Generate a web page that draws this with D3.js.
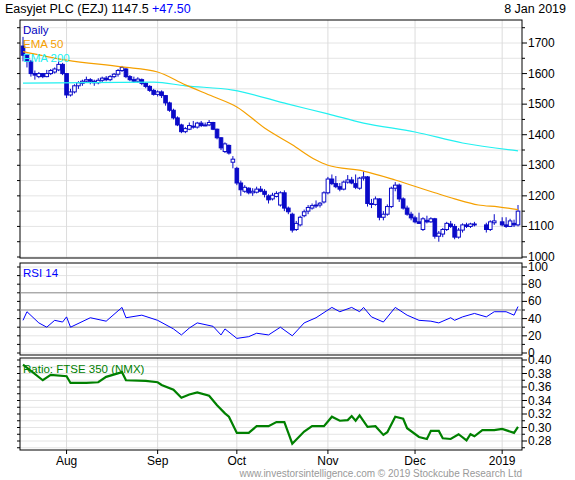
<!DOCTYPE html>
<html><head><meta charset="utf-8">
<script src="https://cdn.jsdelivr.net/npm/d3@7"></script>
<style>body{margin:0;background:#fff}svg{font-family:"Liberation Sans",Arial,sans-serif}</style>
</head><body><svg width="575" height="480"></svg>
<script>
// one row per weekday from 17 Jul 2018: [open, high, low, close], null = market closed
const candles = [
  [1690,1720,1640,1660],[1660,1665,1620,1640],[1640,1645,1590,1600],[1600,1610,1580,1595],[1590,1605,1585,1600],
  [1600,1602,1585,1590],[1590,1612,1588,1600],[1600,1615,1595,1610],[1605,1620,1600,1615],[1612,1640,1608,1630],
  [1630,1635,1595,1600],
  [1600,1600,1520,1530],[1530,1550,1525,1540],[1540,1565,1535,1560],[1560,1575,1550,1570],[1568,1580,1560,1575],
  [1575,1590,1570,1580],[1580,1585,1565,1575],[1575,1580,1560,1570],[1570,1585,1565,1578],[1578,1590,1570,1585],
  [1585,1592,1575,1580],[1580,1595,1575,1590],[1590,1602,1585,1598],[1598,1615,1590,1610],[1610,1625,1605,1620],
  [1615,1618,1585,1590],[1590,1595,1575,1580],[1580,1590,1570,1575],[1575,1588,1570,1582],[1580,1584,1562,1568],
  [1568,1572,1552,1558],[1558,1562,1540,1545],[1545,1550,1528,1532],
  [1532,1545,1525,1540],[1540,1545,1520,1528],[1528,1530,1495,1504],[1504,1508,1475,1480],[1480,1485,1450,1455],
  [1455,1460,1428,1432],[1432,1436,1405,1410],[1410,1425,1405,1420],[1418,1440,1415,1430],[1428,1445,1420,1425],
  [1425,1442,1420,1438],[1438,1445,1425,1430],[1430,1440,1428,1432],[1432,1448,1428,1440],[1440,1442,1415,1418],
  [1418,1420,1385,1390],[1390,1392,1350,1357],[1345,1375,1340,1370],[1365,1368,1335,1340],[1310,1330,1290,1320],
  [1290,1295,1235,1242],[1242,1250,1200,1220],[1215,1235,1210,1228],[1225,1228,1205,1210],[1210,1225,1200,1215],
  [1212,1230,1208,1222],[1222,1232,1212,1215],[1215,1222,1195,1205],[1200,1205,1175,1187],[1190,1210,1185,1202],
  [1198,1215,1195,1208],[1170,1215,1165,1210],[1210,1218,1150,1160],[1160,1165,1140,1148],[1140,1145,1080,1088],
  [1090,1118,1085,1110],[1105,1135,1100,1130],[1135,1155,1130,1148],[1150,1170,1140,1162],[1160,1175,1155,1168],
  [1168,1185,1160,1170],[1170,1180,1162,1176],[1180,1215,1175,1210],
  [1210,1262,1205,1255],[1255,1270,1235,1240],[1240,1265,1225,1230],[1230,1242,1215,1222],[1222,1250,1218,1245],
  [1245,1268,1240,1252],[1252,1262,1238,1242],[1240,1270,1222,1228],[1225,1262,1220,1258],[1258,1280,1250,1262],
  [1262,1265,1165,1175],[1175,1190,1160,1172],[1172,1198,1168,1190],[1190,1192,1120,1130],[1130,1150,1120,1140],
  [1140,1172,1135,1165],[1165,1230,1160,1225],[1225,1245,1215,1235],[1235,1240,1180,1190],[1190,1195,1155,1160],
  [1160,1168,1135,1140],[1140,1148,1120,1128],
  [1128,1135,1110,1115],[1115,1145,1108,1110],[1090,1130,1085,1125],[1120,1135,1110,1115],[1115,1130,1112,1125],
  [1125,1128,1060,1068],[1068,1085,1050,1078],[1075,1095,1065,1090],[1090,1115,1085,1110],[1108,1118,1095,1100],
  [1100,1108,1058,1065],[1065,1095,1060,1088],[1088,1110,1080,1105],[1105,1112,1095,1100],[1100,1112,1095,1108],
  [1108,1115,1100,1105],null,null,[1105,1112,1080,1090],[1090,1120,1085,1115],[1112,1140,1105,1118],
  null,[1115,1130,1100,1105],[1105,1130,1095,1100],[1100,1125,1098,1118],[1110,1122,1098,1105],[1105,1170,1100,1150]
];
const ema50Idx = [0,11,25,34,41,48,54,61,68,74,77,86,94,104,109,115,120,125];
const ema50Val = [1672,1644,1622,1605,1563,1525,1491,1422,1367,1317,1300,1281,1252,1210,1190,1170,1164,1155];
const ema200Idx = [0,33,41,53,67,77,86,99,111,125];
const ema200Val = [1569,1572,1560,1546,1500,1468,1438,1409,1373,1347];
const rsiIdx = [0,1,4,6,8,10,11,12,17,21,25,26,30,34,38,40,42,44,48,50,51,54,57,59,62,65,68,71,74,78,80,83,85,86,88,91,94,97,100,103,105,108,109,111,114,117,119,122,124,125];
const rsiVal = [38,48,35,30,38,36,42,30,41,37,53,41,44,38,28,21,29,35,31,21,28,17,19,23,21,30,20,35,41,53,48,53,48,53,42,36,53,44,38,37,35,41,38,42,46,42,48,48,44,54];
const ratioIdx = [0,5,7,11,12,16,19,21,25,26,31,34,35,38,40,42,44,47,49,51,52,54,57,59,62,64,66,67,68,71,73,76,78,80,82,83,84,85,87,89,91,92,94,96,97,100,102,103,105,106,108,110,112,113,114,116,119,121,124,125];
const ratioVal = [0.393,0.370,0.378,0.376,0.366,0.366,0.367,0.375,0.382,0.370,0.369,0.367,0.363,0.356,0.344,0.349,0.352,0.347,0.333,0.321,0.316,0.292,0.292,0.302,0.302,0.308,0.308,0.292,0.276,0.294,0.302,0.302,0.316,0.310,0.311,0.317,0.310,0.318,0.301,0.302,0.289,0.293,0.316,0.313,0.299,0.286,0.283,0.295,0.295,0.284,0.283,0.290,0.281,0.290,0.287,0.296,0.296,0.298,0.292,0.301];
const monthLabels = ['Aug','Sep','Oct','Nov','Dec','2019'];
const monthIdx = [11,34,54,77,99,121];

const svg = d3.select('svg');
const L = 20, R = 522;
const x = d3.scaleLinear().domain([0, candles.length - 1]).range([23, 518]);
const yP = d3.scaleLinear().domain([1000, 1700]).range([257, 43]);
const yR = d3.scaleLinear().domain([0, 100]).range([353, 267]);
const yQ = d3.scaleLinear().domain([0.28, 0.40]).range([441, 360]);
const panels = [[20, 258, yP, d3.range(1000, 1751, 50), 100], [263, 355, yR, d3.range(0, 101, 10), 20], [358, 450, yQ, d3.range(0.27, 0.405, 0.01), 0.02]];

panels.forEach(([top, bot, ys, minor, major]) => {
    const g = svg.append('g');
    g.selectAll('.h').data(minor.filter(v => ys(v) > top && ys(v) < bot)).enter().append('line')
        .attr('x1', L).attr('x2', R).attr('y1', d => ys(d)).attr('y2', d => ys(d))
        .attr('stroke', '#e4e4e4');
    g.selectAll('.v').data(monthIdx).enter().append('line')
        .attr('x1', d => x(d)).attr('x2', d => x(d)).attr('y1', top).attr('y2', bot).attr('stroke', '#dcdcdc');
    // tick marks on both sides
    g.selectAll('.t').data(minor.filter(v => ys(v) >= top - 1 && ys(v) <= bot + 1)).enter().append('g').each(function (d) {
        const isMaj = Math.abs(d / major - Math.round(d / major)) < 1e-6;
        const s = d3.select(this);
        s.append('line').attr('x1', L - 3).attr('x2', L).attr('y1', ys(d)).attr('y2', ys(d)).attr('stroke', '#000');
        s.append('line').attr('x1', R).attr('x2', R + (isMaj ? 5 : 3)).attr('y1', ys(d)).attr('y2', ys(d)).attr('stroke', '#000');
        if (isMaj) s.append('text').attr('x', R + 6).attr('y', ys(d) + 4).attr('font-size', 12)
            .text(major < 1 ? d3.format('.2f')(d) : Math.round(d));
    });
    g.append('rect').attr('x', L).attr('y', top).attr('width', R - L).attr('height', bot - top)
        .attr('fill', 'none').attr('stroke', '#000');
});

// rsi guide lines
svg.selectAll('.rg').data([30, 50, 70]).enter().append('line')
    .attr('x1', L).attr('x2', R).attr('y1', d => yR(d)).attr('y2', d => yR(d)).attr('stroke', '#909090');

// candles
const cg = svg.append('g');
candles.forEach((c, i) => {
    if (!c) return;
    const [o, h, l, cl] = c, col = '#0a0ac8';
    cg.append('line').attr('x1', x(i)).attr('x2', x(i)).attr('y1', yP(h)).attr('y2', yP(l)).attr('stroke', col);
    const up = cl >= o;
    cg.append('rect').attr('x', x(i) - 1.8).attr('width', 3.6)
        .attr('y', yP(Math.max(o, cl))).attr('height', Math.max(1, Math.abs(yP(o) - yP(cl))))
        .attr('fill', up ? '#fff' : col).attr('stroke', col).attr('stroke-width', 1);
});

const line = (ys) => d3.line().x(d => x(d[0])).y(d => ys(d[1])).curve(d3.curveMonotoneX);
svg.append('path').attr('d', line(yP)(d3.zip(ema200Idx, ema200Val))).attr('fill', 'none').attr('stroke', '#22f0f0').attr('stroke-width', 1.2);
svg.append('path').attr('d', line(yP)(d3.zip(ema50Idx, ema50Val))).attr('fill', 'none').attr('stroke', '#f5a000').attr('stroke-width', 1.2);
svg.append('path').attr('d', d3.line().x(d => x(d[0])).y(d => yR(d[1]))(d3.zip(rsiIdx, rsiVal))).attr('fill', 'none').attr('stroke', '#0000ff').attr('stroke-width', 1);
svg.append('path').attr('d', d3.line().x(d => x(d[0])).y(d => yQ(d[1]))(d3.zip(ratioIdx, ratioVal))).attr('fill', 'none').attr('stroke', '#008000').attr('stroke-width', 2.2);

// month labels
svg.selectAll('.ml').data(monthIdx).enter().append('text')
    .attr('x', d => x(d)).attr('y', 465).attr('text-anchor', 'middle').attr('font-size', 12)
    .text((d, i) => monthLabels[i]);
svg.selectAll('.mt').data(monthIdx).enter().append('line')
    .attr('x1', d => x(d)).attr('x2', d => x(d)).attr('y1', 450).attr('y2', 454).attr('stroke', '#000');

// texts
const t = svg.append('text').attr('x', 5).attr('y', 13).attr('font-size', 12.5);
t.append('tspan').text('Easyjet PLC (EZJ) 1147.5 ');
t.append('tspan').attr('fill', '#0000ff').text('+47.50');
svg.append('text').attr('x', 566).attr('y', 13).attr('text-anchor', 'end').attr('font-size', 12.5).text('8 Jan 2019');
[['Daily', '#0000c0', 34], ['EMA 50', '#f5a000', 48], ['EMA 200', '#22f0f0', 62], ['RSI 14', '#0000ff', 277], ['Ratio: FTSE 350 (NMX)', '#008000', 373]]
    .forEach(([s, c, y]) => svg.append('text').attr('x', 23).attr('y', y).attr('font-size', 11.5).attr('fill', c).text(s));
svg.append('text').attr('x', 522).attr('y', 477).attr('text-anchor', 'end').attr('font-size', 10).attr('fill', '#999')
    .text('www.investorsintelligence.com  \u00a9 2019 Stockcube Research Ltd');
</script></body></html>
